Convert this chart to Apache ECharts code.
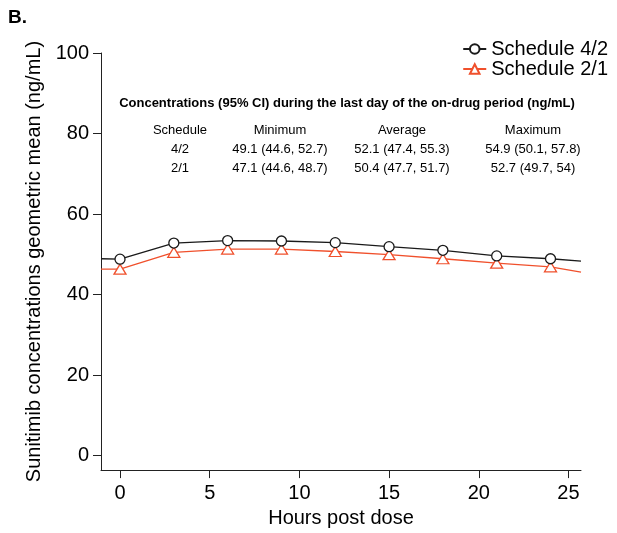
<!DOCTYPE html>
<html>
<head>
<meta charset="utf-8">
<script src="https://cdn.jsdelivr.net/npm/echarts@6/dist/echarts.min.js"></script>
<style>html,body{margin:0;padding:0;background:#fff}#c{width:617px;height:533px}</style>
</head>
<body>
<div id="c"></div>
<script>
// Data
const hours = [-1.06, 0, 3, 6, 9, 12, 15, 18, 21, 24, 25.7];
const schedule42 = [48.9, 48.8, 52.8, 53.4, 53.3, 52.9, 51.9, 51.0, 49.6, 48.9, 48.3];
const schedule21 = [46.3, 46.3, 50.5, 51.3, 51.3, 50.7, 49.9, 48.9, 47.8, 46.9, 45.6];
const seriesNames = ['Schedule 4/2', 'Schedule 2/1'];
const xTicks = [0, 5, 10, 15, 20, 25];
const yTicks = [0, 20, 40, 60, 80, 100];
const tableTitle = 'Concentrations (95% CI) during the last day of the on-drug period (ng/mL)';
const tableHeader = ['Schedule', 'Minimum', 'Average', 'Maximum'];
const tableRows = [
  ['4/2', '49.1 (44.6, 52.7)', '52.1 (47.4, 55.3)', '54.9 (50.1, 57.8)'],
  ['2/1', '47.1 (44.6, 48.7)', '50.4 (47.7, 51.7)', '52.7 (49.7, 54)']
];

const FONT = '"Liberation Sans", Arial, sans-serif';
const RED = '#f0502c';
const BLK = '#1a1a1a';
const AX = '#222';

function mkData(vals) {
  return hours.map((h, i) => {
    const edge = (i === 0 || i === hours.length - 1);
    return edge ? { value: [h, vals[i]], symbol: 'none' } : [h, vals[i]];
  });
}

const colX = [180, 280, 402, 533];
const rowY = [130, 149, 168];
const graphics = [
  { type: 'text', left: 8, top: 8, style: { text: 'B.', font: 'bold 19px ' + FONT, fill: '#000' } },
  { type: 'text', x: 347, y: 103, style: { text: tableTitle, font: 'bold 13px ' + FONT, fill: '#000', align: 'center', verticalAlign: 'middle' } }
];
[tableHeader].concat(tableRows).forEach((row, r) => {
  row.forEach((t, c) => {
    graphics.push({ type: 'text', x: colX[c], y: rowY[r], style: { text: t, font: '13px ' + FONT, fill: '#000', align: 'center', verticalAlign: 'middle' } });
  });
});

const chart = echarts.init(document.getElementById('c'), null, { renderer: 'canvas' });
chart.setOption({
  animation: false,
  backgroundColor: '#fff',
  grid: { left: 101, right: 36, top: 53, bottom: 56, containLabel: false },
  legend: {
    orient: 'vertical', right: 4, top: 34, itemGap: 0, itemWidth: 23, itemHeight: 12,
    textStyle: { fontFamily: FONT, fontSize: 20, color: '#000' },
    data: seriesNames
  },
  xAxis: {
    type: 'value', min: -1.06, max: 25.7,
    name: 'Hours post dose', nameLocation: 'middle', nameGap: 37,
    nameTextStyle: { fontFamily: FONT, fontSize: 20, color: '#000', verticalAlign: 'top' },
    axisLine: { onZero: false, lineStyle: { color: AX, width: 1 } },
    axisTick: { customValues: xTicks, length: 8, lineStyle: { color: AX } },
    axisLabel: { customValues: xTicks, fontFamily: FONT, fontSize: 20, color: '#000', margin: 13 },
    splitLine: { show: false }
  },
  yAxis: {
    type: 'value', min: -3.6, max: 100,
    name: 'Sunitimib concentrations geometric mean (ng/mL)', nameLocation: 'middle', nameGap: 54,
    nameTextStyle: { fontFamily: FONT, fontSize: 20, color: '#000' },
    axisLine: { show: true, onZero: false, lineStyle: { color: AX, width: 1 } },
    axisTick: { show: true, customValues: yTicks, length: 8, lineStyle: { color: AX } },
    axisLabel: { customValues: yTicks, fontFamily: FONT, fontSize: 20, color: '#000', margin: 12 },
    splitLine: { show: false }
  },
  graphic: graphics,
  series: [
    {
      name: seriesNames[0], type: 'line', data: mkData(schedule42),
      symbol: 'circle', symbolSize: 10, showAllSymbol: true,
      lineStyle: { color: BLK, width: 1.3 },
      itemStyle: { color: '#fff', borderColor: BLK, borderWidth: 1.3 },
      z: 3
    },
    {
      name: seriesNames[1], type: 'line', data: mkData(schedule21),
      symbol: 'triangle', symbolSize: [12, 10], showAllSymbol: true,
      lineStyle: { color: RED, width: 1.3 },
      itemStyle: { color: '#fff', borderColor: RED, borderWidth: 1.3 },
      z: 2
    }
  ]
});
</script>
</body>
</html>
